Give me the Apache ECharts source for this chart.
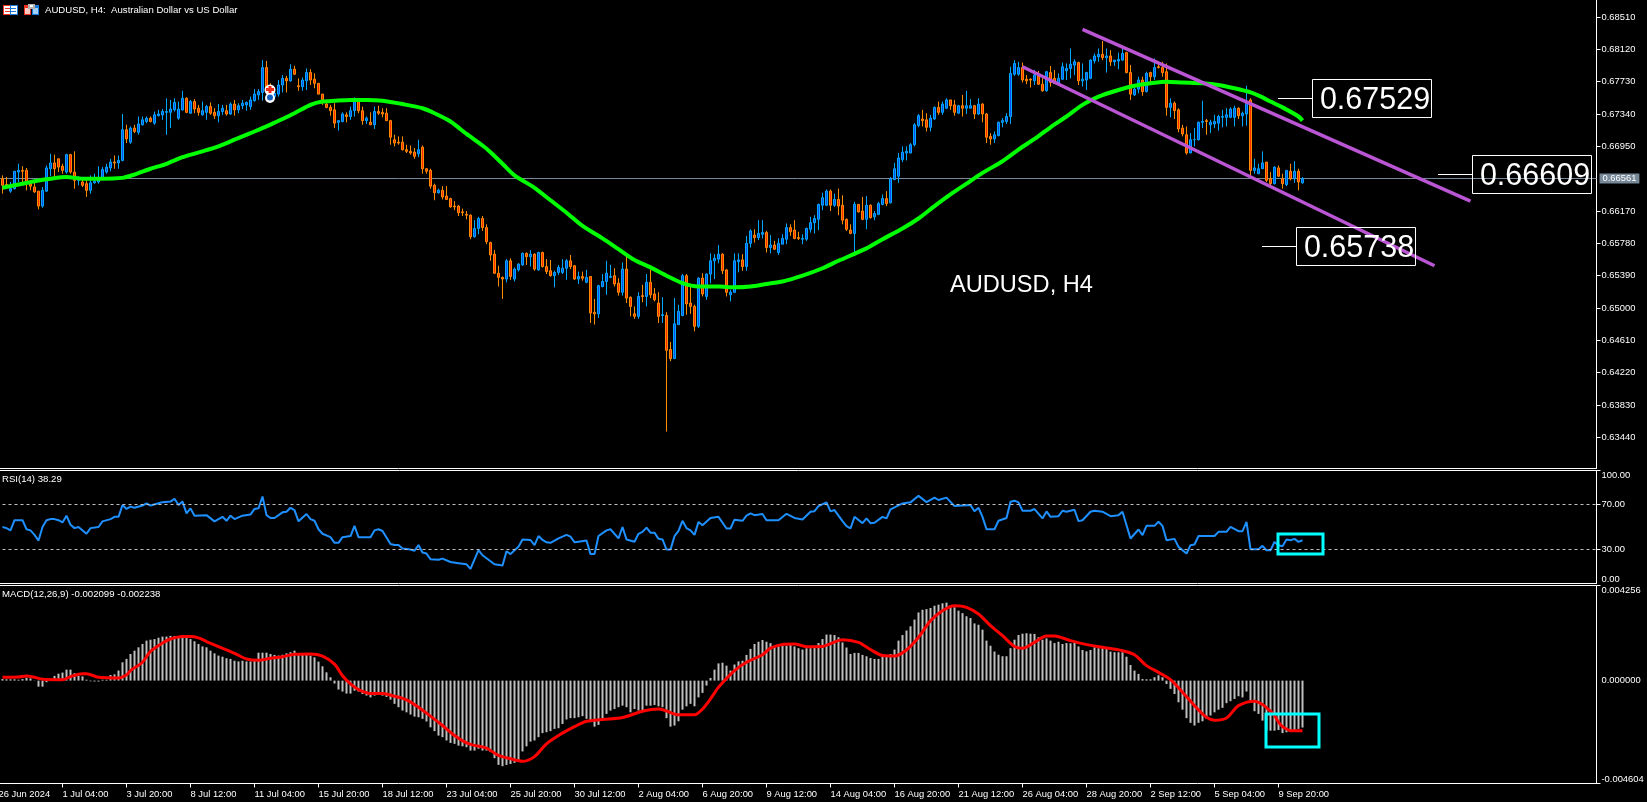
<!DOCTYPE html>
<html><head><meta charset="utf-8">
<style>html,body{margin:0;padding:0;background:#000;overflow:hidden}#c{width:1647px;height:802px}</style>
<script src="https://cdn.jsdelivr.net/npm/echarts@6/dist/echarts.min.js"></script>
</head><body><div id="c"></div>
<script>
// Prices in pips (0.0001), bars
const open=[
6656,6649,6641,6644,6664,6666,6666,6650,6646,6641,
6623,6641,6668,6675,6680,6671,6664,6685,6664,6654,
6652,6650,6642,6651,6652,6657,6664,6669,6676,6675,
6678,6715,6700,6717,6712,6721,6725,6729,6723,6732,
6733,6736,6736,6739,6729,6739,6753,6735,6749,6741,
6733,6736,6743,6736,6732,6737,6738,6734,6746,6739,
6744,6745,6743,6750,6757,6760,6790,6766,6755,6758,
6769,6777,6774,6788,6768,6767,6774,6784,6776,6771,
6758,6746,6742,6739,6724,6725,6733,6731,6738,6749,
6738,6726,6724,6721,6737,6736,6735,6726,6703,6700,
6700,6691,6689,6688,6686,6694,6668,6666,6648,6639,
6642,6635,6632,6623,6623,6616,6613,6612,6586,6596,
6608,6597,6579,6565,6542,6537,6535,6557,6535,6546,
6552,6566,6562,6565,6546,6567,6550,6545,6539,6543,
6543,6548,6557,6551,6535,6538,6531,6538,6495,6493,
6526,6532,6537,6539,6530,6519,6547,6513,6493,6490,
6515,6514,6531,6517,6506,6491,6491,6450,6439,6480,
6491,6539,6506,6502,6478,6536,6514,6541,6557,6559,
6565,6546,6516,6519,6556,6558,6550,6578,6588,6585,
6589,6591,6573,6576,6567,6577,6583,6597,6594,6585,
6583,6583,6595,6603,6607,6624,6624,6641,6624,6631,
6624,6607,6594,6590,6625,6617,6607,6624,6610,6613,
6625,6632,6627,6655,6659,6679,6687,6687,6697,6720,
6728,6727,6718,6728,6742,6736,6741,6751,6745,6735,
6744,6741,6741,6744,6734,6746,6734,6707,6704,6708,
6724,6725,6731,6782,6782,6790,6776,6776,6774,6780,
6770,6762,6784,6777,6771,6776,6786,6789,6793,6796,
6774,6775,6777,6798,6803,6806,6802,6804,6797,6798,
6799,6808,6784,6757,6764,6775,6761,6784,6779,6791,
6790,6785,6742,6747,6739,6717,6709,6687,6703,6703,
6724,6726,6721,6722,6723,6730,6730,6730,6730,6741,
6732,6734,6751,6666,6662,6668,6676,6656,6650,6669,
6656,6649,6665,6656,6665,6651];
const high=[
6660,6658,6652,6665,6674,6671,6669,6652,6654,6641,
6646,6672,6686,6685,6680,6674,6686,6686,6689,6659,
6658,6654,6660,6662,6671,6670,6674,6680,6684,6684,
6734,6721,6719,6721,6731,6731,6731,6731,6737,6739,
6740,6753,6751,6753,6749,6762,6754,6751,6752,6745,
6749,6745,6748,6741,6746,6745,6745,6748,6751,6747,
6751,6749,6755,6764,6764,6799,6798,6771,6763,6775,
6781,6780,6794,6792,6777,6778,6789,6788,6783,6771,
6758,6751,6745,6747,6726,6736,6736,6743,6754,6753,
6743,6731,6736,6743,6744,6741,6741,6727,6709,6707,
6707,6697,6696,6693,6703,6696,6669,6668,6650,6644,
6647,6647,6633,6629,6624,6620,6617,6613,6606,6610,
6611,6601,6580,6570,6551,6538,6559,6560,6549,6554,
6567,6567,6570,6566,6568,6568,6559,6558,6545,6552,
6559,6559,6564,6552,6544,6544,6546,6538,6511,6528,
6541,6557,6552,6548,6536,6555,6562,6514,6502,6519,
6528,6541,6546,6524,6519,6513,6495,6459,6512,6504,
6541,6541,6527,6504,6537,6542,6542,6566,6565,6576,
6566,6547,6522,6566,6566,6565,6587,6595,6595,6606,
6606,6593,6588,6581,6584,6589,6602,6601,6606,6592,
6589,6597,6610,6612,6626,6639,6643,6643,6638,6644,
6636,6608,6601,6628,6625,6634,6635,6625,6617,6628,
6637,6641,6658,6675,6687,6695,6695,6699,6723,6734,
6739,6735,6733,6743,6749,6749,6753,6751,6751,6745,
6757,6762,6752,6745,6753,6747,6735,6711,6713,6725,
6729,6735,6791,6799,6797,6796,6781,6777,6787,6786,
6777,6786,6792,6787,6783,6796,6795,6813,6800,6797,
6795,6785,6800,6807,6813,6822,6813,6811,6799,6808,
6813,6809,6793,6769,6779,6779,6785,6785,6801,6797,
6797,6795,6753,6749,6741,6721,6719,6711,6717,6725,
6750,6728,6727,6733,6733,6739,6741,6742,6744,6742,
6737,6768,6753,6680,6674,6689,6676,6664,6671,6672,
6662,6666,6674,6677,6668,6658];
const low=[
6638,6644,6639,6643,6652,6652,6642,6642,6639,6619,
6621,6640,6659,6658,6664,6662,6662,6662,6644,6648,
6646,6634,6638,6650,6650,6656,6662,6665,6668,6668,
6677,6699,6698,6711,6709,6720,6723,6724,6721,6731,
6727,6709,6717,6737,6727,6738,6735,6734,6735,6732,
6732,6727,6733,6728,6724,6733,6732,6733,6732,6735,
6740,6738,6739,6749,6751,6750,6760,6750,6753,6755,
6760,6760,6773,6781,6762,6762,6763,6769,6765,6758,
6745,6741,6732,6717,6714,6724,6724,6727,6731,6735,
6721,6722,6721,6716,6733,6730,6726,6697,6695,6697,
6690,6687,6685,6680,6682,6662,6662,6644,6630,6638,
6631,6631,6621,6618,6611,6611,6607,6583,6585,6589,
6593,6577,6557,6541,6526,6511,6531,6534,6532,6544,
6551,6552,6550,6545,6545,6549,6541,6538,6525,6540,
6541,6534,6547,6534,6529,6533,6530,6482,6480,6488,
6525,6516,6536,6526,6515,6515,6506,6490,6487,6487,
6507,6502,6512,6508,6482,6482,6351,6436,6439,6480,
6490,6492,6493,6472,6476,6514,6510,6530,6535,6554,
6541,6514,6508,6518,6543,6545,6545,6573,6579,6582,
6584,6567,6566,6570,6564,6577,6577,6587,6583,6582,
6577,6581,6591,6590,6594,6618,6623,6617,6622,6612,
6601,6593,6589,6564,6615,6606,6595,6608,6606,6612,
6624,6623,6626,6654,6651,6676,6678,6687,6695,6718,
6719,6713,6713,6727,6733,6733,6740,6739,6732,6734,
6731,6734,6741,6728,6733,6724,6699,6697,6699,6707,
6718,6722,6722,6780,6780,6772,6770,6766,6769,6769,
6761,6761,6767,6771,6771,6775,6775,6777,6781,6769,
6767,6763,6776,6795,6797,6799,6784,6792,6792,6788,
6798,6783,6751,6756,6759,6756,6760,6771,6775,6789,
6779,6732,6730,6728,6712,6707,6685,6687,6695,6702,
6717,6709,6711,6717,6714,6718,6719,6729,6719,6728,
6719,6720,6660,6662,6662,6668,6652,6648,6649,6658,
6644,6647,6654,6651,6642,6650];
const close=[
6648,6647,6644,6665,6666,6665,6652,6647,6640,6623,
6642,6669,6675,6668,6670,6666,6685,6664,6654,6656,
6648,6642,6651,6653,6656,6667,6670,6676,6675,6678,
6715,6704,6717,6713,6722,6727,6729,6725,6733,6734,
6737,6737,6740,6748,6740,6753,6736,6749,6740,6736,
6738,6743,6735,6732,6737,6741,6734,6746,6739,6744,
6747,6748,6751,6758,6761,6790,6766,6757,6759,6769,
6777,6774,6788,6782,6767,6775,6784,6775,6771,6758,
6751,6742,6738,6723,6726,6734,6731,6738,6749,6738,
6726,6729,6721,6737,6735,6734,6726,6706,6699,6699,
6691,6689,6687,6683,6691,6668,6665,6647,6639,6642,
6634,6631,6622,6622,6615,6615,6612,6586,6596,6608,
6597,6580,6564,6542,6537,6535,6557,6538,6547,6553,
6566,6562,6565,6547,6567,6550,6544,6539,6543,6549,
6548,6557,6550,6535,6538,6536,6537,6494,6493,6527,
6532,6542,6538,6529,6519,6547,6512,6502,6490,6514,
6514,6531,6516,6510,6490,6492,6449,6439,6481,6496,
6539,6505,6502,6478,6536,6517,6541,6557,6560,6565,
6545,6519,6519,6557,6558,6550,6578,6593,6585,6590,
6591,6573,6576,6571,6578,6584,6597,6592,6584,6584,
6584,6596,6603,6608,6625,6633,6641,6624,6631,6623,
6606,6595,6590,6625,6616,6607,6624,6609,6614,6626,
6632,6626,6656,6668,6681,6688,6689,6697,6721,6732,
6726,6718,6729,6742,6736,6746,6751,6744,6736,6744,
6741,6744,6744,6734,6746,6734,6706,6704,6709,6724,
6726,6731,6783,6795,6790,6775,6774,6775,6781,6770,
6762,6785,6772,6771,6777,6791,6789,6794,6797,6774,
6776,6784,6799,6804,6806,6802,6804,6797,6799,6800,
6807,6784,6758,6764,6775,6761,6783,6779,6790,6790,
6784,6742,6747,6738,6716,6710,6687,6703,6703,6724,
6725,6725,6724,6725,6731,6731,6733,6740,6741,6732,
6735,6747,6666,6669,6668,6675,6654,6650,6670,6659,
6650,6666,6656,6665,6652,6656];

// Moving average: [bar, pips] read at the line's vertices
const maPoints=[[0,6645],[5,6650],[8,6653],[12,6656],[16,6658],[20,6656],[24,6656],[30,6657],[33,6661],[37,6668],[41,6674],[45,6682],[50,6689],[54,6695],[58,6703],[62,6711],[66,6719],[70,6728],[73,6735],[77,6745],[80,6749],[83,6750],[87,6751],[91,6751],[95,6750],[100,6746],[105,6741],[108,6735],[112,6725],[116,6710],[120,6696],[122,6688],[125,6674],[128,6660],[133,6645],[137,6630],[141,6615],[145,6599],[150,6584],[154,6571],[158,6558],[162,6549],[166,6539],[170,6530],[174,6526],[179,6526],[183,6525],[187,6526],[191,6529],[195,6532],[200,6539],[205,6548],[209,6557],[216,6572],[220,6583],[225,6596],[229,6608],[233,6623],[237,6637],[241,6650],[245,6663],[250,6677],[254,6691],[258,6704],[262,6718],[266,6731],[270,6745],[274,6755],[279,6763],[283,6768],[287,6771],[291,6773],[295,6772],[300,6771],[304,6769],[308,6765],[312,6760],[315,6754],[317,6749],[320,6742],[324,6731],[325,6726]];

// Trend channel: [bar, pips] at both ends
const upperChannel=[[270,6836],[367,6629]];
const lowerChannel=[[255,6791],[358,6551]];

// RSI(14): [bar, value]
const rsiPoints=[[0,50],[1,49],[2,47],[3,56],[5,56],[6,48],[7,47],[8,43],[9,38],[10,50],[11,56],[12,57],[13,57],[14,56],[15,54],[16,60],[17,52],[18,49],[19,50],[21,44],[22,49],[24,50],[25,55],[27,57],[28,59],[29,59],[30,69.5],[31,66],[32,68],[33,67],[35,69],[36,71],[37,69],[39,71],[40,72],[42,72.5],[43,75],[44,69.5],[45,72.5],[46,62],[47,66.5],[48,60],[51,60.5],[53,55],[55,59],[56,55.5],[57,60],[58,57],[60,60],[62,61],[63,66],[64,66.5],[65,77],[66,60.5],[67,58],[68,58],[70,63],[71,63.5],[72,67],[73,65],[74,55],[76,61.5],[77,57],[78,55.5],[79,48],[80,44],[82,41],[83,36],[84,36],[85,41],[87,42],[88,51],[89,41],[92,41],[93,47],[94,48],[95,46.5],[97,35],[98,34],[99,34],[100,31],[102,30],[103,29],[104,34],[105,27.5],[106,26.5],[107,21.5],[109,21],[110,22],[112,19],[114,18],[116,17],[117,13],[119,29.5],[120,25],[123,17],[125,16],[126,28.5],[127,26],[128,29.5],[129,32.5],[130,39],[132,38.5],[133,34],[134,42],[135,38.5],[136,36.5],[137,36],[139,40],[141,43],[142,41.5],[143,36.5],[144,37],[146,38],[147,26],[148,26],[149,42],[151,47],[152,48],[154,40],[155,50],[156,39],[158,37],[159,44],[160,45.7],[161,49.5],[162,45],[163,45],[164,39.5],[165,39],[166,30],[167,30],[168,42],[169,46.5],[170,55.5],[171,49],[172,47],[173,43],[174,54.5],[175,51.5],[177,58],[179,59],[181,48.7],[182,48.7],[183,56.5],[185,55.5],[186,60],[187,62],[188,60.5],[190,61.5],[191,56],[194,56],[196,61.7],[198,58],[200,56.7],[202,63.5],[203,64],[204,68.5],[206,71.8],[207,63.8],[208,65],[210,55.2],[211,50.8],[212,48.7],[213,59],[215,53.4],[216,57.6],[217,53.4],[218,53.7],[220,59],[221,57.6],[222,65.6],[225,70.9],[227,71.8],[229,77.7],[231,72],[233,76],[234,73.9],[236,76],[238,68.5],[242,69.4],[243,64],[244,67],[245,59],[246,48],[248,48],[249,55.5],[251,58],[252,72.4],[253,73.3],[254,71.8],[255,64.4],[257,64.4],[258,65.9],[260,57.6],[261,63.8],[262,59],[264,59.6],[265,64.4],[266,63.5],[268,65.3],[269,55.2],[270,56],[272,63.5],[273,64.4],[275,63.5],[277,59.6],[279,60.5],[280,63.5],[282,39.8],[284,47.8],[285,42.8],[286,51],[288,51],[289,54.6],[290,51],[291,38.3],[293,39.5],[294,32.4],[296,26.5],[297,33.9],[298,34.5],[299,42],[303,42],[304,45.7],[306,45.7],[307,50.2],[309,46.3],[310,46.3],[311,54.6],[312,30.3],[314,30.3],[315,33.3],[316,29.4],[317,29.4],[318,36.8],[319,33.9],[320,33],[321,38.9],[322,38.3],[323,39.5],[324,36.8],[325,38.3]];

// MACD histogram, one value per bar, in units of 0.00001
const macdHist=[
7,6,6,6,4,7,13,10,1,-27,
-27,-7,1,21,31,36,49,49,33,21,
19,4,-3,-4,-4,4,4,25,28,45,
82,97,119,134,149,164,179,183,186,192,
197,197,200,200,197,200,194,186,176,164,
153,149,134,122,112,107,100,97,89,86,
89,86,86,89,125,125,125,119,115,112,
116,122,127,134,119,118,116,112,104,85,
64,37,15,-13,-40,-49,-58,-58,-45,-49,
-60,-67,-75,-67,-64,-67,-73,-85,-104,-119,
-134,-142,-152,-161,-164,-171,-183,-209,-226,-246,
-253,-268,-279,-283,-291,-294,-298,-313,-313,-305,
-313,-313,-320,-347,-377,-383,-377,-373,-368,-356,
-317,-294,-273,-268,-253,-235,-231,-226,-216,-213,
-194,-174,-168,-168,-164,-159,-171,-186,-206,-198,
-179,-149,-134,-127,-119,-112,-119,-142,-127,-134,
-134,-112,-112,-109,-115,-119,-168,-206,-201,-182,
-130,-115,-104,-115,-75,-55,-22,12,49,77,
80,67,45,72,86,89,115,142,164,174,
182,174,168,153,153,156,156,168,153,145,
139,145,145,156,168,186,206,206,204,194,
171,148,119,124,124,115,109,101,97,97,
107,112,119,139,179,204,224,243,273,305,
317,320,325,335,340,346,349,335,328,313,
302,288,280,256,250,228,179,156,130,116,
109,109,145,183,204,210,212,210,209,194,
183,189,179,168,174,164,168,167,171,153,
137,131,137,149,145,145,142,130,127,127,
127,107,70,45,30,7,6,6,15,24,
15,-15,-37,-60,-97,-130,-168,-189,-201,-189,
-182,-171,-156,-142,-130,-122,-101,-92,-82,-70,
-75,-49,-97,-137,-149,-179,-224,-224,-224,-221,
-235,-231,-224,-221,-216,-210];

// MACD signal: [bar, value] in units of 0.00001
const macdSignal=[[0,15],[4,16],[6,21],[8,15],[10,6],[15,4],[17,18],[20,31],[21,31],[24,15],[29,12],[31,25],[32,45],[35,82],[37,131],[40,168],[42,186],[45,197],[47,197],[49,191],[51,175],[54,152],[58,122],[61,97],[64,91],[67,100],[70,107],[73,118],[77,119],[80,110],[83,74],[85,22],[87,-15],[89,-40],[92,-58],[95,-58],[98,-70],[101,-86],[104,-119],[107,-159],[110,-201],[113,-246],[116,-279],[118,-290],[121,-302],[124,-335],[127,-350],[130,-361],[133,-340],[136,-283],[140,-235],[143,-206],[146,-182],[150,-174],[155,-165],[160,-137],[164,-127],[166,-136],[169,-153],[173,-153],[175,-127],[177,-82],[179,-30],[183,45],[186,82],[190,116],[192,145],[195,162],[198,164],[201,152],[205,153],[207,165],[210,183],[214,171],[217,139],[220,112],[223,110],[226,137],[229,194],[232,268],[235,313],[238,335],[241,328],[244,298],[247,246],[250,201],[253,153],[255,145],[258,171],[261,200],[263,200],[267,179],[271,161],[275,149],[280,134],[283,116],[286,67],[289,37],[292,4],[295,-52],[298,-112],[301,-164],[303,-177],[306,-167],[309,-112],[313,-92],[315,-107],[317,-137],[318,-156],[319,-186],[320,-206],[321,-216],[322,-224],[325,-224]];

// Axis ticks
const priceTicks=[0.6851,0.6812,0.6773,0.6734,0.6695,0.6617,0.6578,0.6539,0.65,0.6461,0.6422,0.6383,0.6344];
const rsiTicks=[0,30,70,100];
const macdTicks=[-0.004604,0,0.004256];
const timeLabels=['26 Jun 2024','1 Jul 04:00','3 Jul 20:00','8 Jul 12:00','11 Jul 04:00','15 Jul 20:00','18 Jul 12:00','23 Jul 04:00','25 Jul 20:00','30 Jul 12:00','2 Aug 04:00','6 Aug 20:00','9 Aug 12:00','14 Aug 04:00','16 Aug 20:00','21 Aug 12:00','26 Aug 04:00','28 Aug 20:00','2 Sep 12:00','5 Sep 04:00','9 Sep 20:00'];
const lastPrice=0.66561;
const rsiLevels=[70,30];
const calloutTexts=['0.67529','0.66609','0.65738'];

// ---- build ----
const PIP=1e-4, MU=1e-5, SLOTS=400, EVERY=16;
const cats=Array.from({length:SLOTS},(_,k)=>k%EVERY===0&&timeLabels[k/EVERY]?timeLabels[k/EVERY]:'');
const slot=b=>b+1;
const candle=[ '-' ].concat(open.map((o,k)=>[o*PIP,close[k]*PIP,low[k]*PIP,high[k]*PIP]));
const pts=(a,u)=>a.map(p=>[slot(p[0]),p[1]*u]);
const FONT='"Liberation Sans",Arial,sans-serif';
const txt={color:'#fff',fontFamily:FONT,fontSize:9.4};
const isLab=(k,v)=>v!=='';

function xAxisFor(g,show){return {type:'category',gridIndex:g,data:cats,boundaryGap:true,
  axisLine:{onZero:false,lineStyle:{color:'#fff',width:1}},
  axisTick:show?{show:true,interval:isLab,alignWithLabel:true,length:4,lineStyle:{color:'#fff'}}:{show:false},
  axisLabel:show?Object.assign({show:true,interval:isLab,align:'left',margin:6},txt):{show:false},
  splitLine:{show:false}};}

function yAxisFor(g,min,max,ticks,tickShown,fmt,edge){return {type:'value',gridIndex:g,position:'right',min,max,
  axisLine:{show:true,lineStyle:{color:'#fff',width:1}},
  axisTick:{show:true,length:4,lineStyle:{color:'#fff'},customValues:tickShown},
  axisLabel:Object.assign({show:true,margin:5,customValues:ticks,formatter:fmt},edge?{verticalAlignMinLabel:'bottom',verticalAlignMaxLabel:'top'}:{},txt),
  splitLine:{show:false}};}

const line=(x,y,w)=>({type:'line',z:50,shape:{x1:x,y1:y,x2:x+w,y2:y},style:{stroke:'#fff',lineWidth:1}});
const frame=(y)=>line(0,y,1597);
const box=(x,y,w,h,c,lw)=>({type:'rect',z:60,shape:{x,y,width:w,height:h},style:{fill:'transparent',stroke:c,lineWidth:lw}});
const label=(x,y,t,size,extra)=>({type:'text',z:70,x,y,style:Object.assign({text:t,fill:'#fff',font:size+'px '+FONT,textVerticalAlign:'middle'},extra||{})});
const rectF=(x,y,w,h,c)=>({type:'rect',z:70,shape:{x,y,width:w,height:h},style:{fill:c}});
const callout=(bx,by,t)=>[line(bx-34,by+19.5,34),box(bx+.5,by+.5,119,38,'#fff',1),label(bx+63,by+21.5,t,30.5,{textAlign:'center'})];

const graphic=[
 frame(470.5),frame(585.5),
 ...callout(1312,79,calloutTexts[0]),
 ...callout(1472,155,calloutTexts[1]),
 ...callout(1296,227,calloutTexts[2]),
 box(1278,534,45,20,'#00FFFF',3),
 box(1266,714,53,33,'#00FFFF',3),
 label(45,10,'AUDUSD, H4:  Australian Dollar vs US Dollar',9.6),
 label(2,479.5,'RSI(14) 38.29',9.6),
 label(2,594.5,'MACD(12,26,9) -0.002099 -0.002238',9.6),
 {type:'text',z:70,x:950,y:297,style:{text:'AUDUSD, H4',fill:'#fff',font:'23.6px '+FONT,textVerticalAlign:'bottom'}},
 // toolbar icons
 rectF(3,5,8,10,'#f03020'),rectF(4,6,6,8,'#fff'),rectF(5,8,5,1,'#f03020'),rectF(5,11,5,1,'#f03020'),
 rectF(10,5,8,10,'#1878d8'),rectF(11,6,6,8,'#fff'),rectF(11,8,5,1,'#1878d8'),rectF(11,11,5,1,'#1878d8'),
 rectF(24,5,7,10,'#f03020'),rectF(25,8,5,6,'#ffc8c0'),
 rectF(32,5,7,10,'#1878d8'),rectF(33,8,5,6,'#a0d0f8'),rectF(28,4,7,5,'#b0b0b0'),rectF(30,5,3,2,'#fff'),
 // trade markers
 {type:'circle',z:70,shape:{cx:270,cy:90,r:5.5},style:{fill:'#fff'}},
 {type:'circle',z:70,shape:{cx:270,cy:98,r:5},style:{fill:'#fff'}},
 rectF(266,88,8,3,'#f02818'),rectF(268.5,86,3,7,'#f02818'),
 {type:'circle',z:71,shape:{cx:270,cy:97.5,r:3},style:{fill:'#1060c0'}}
];

const option={backgroundColor:'#000',animation:false,tooltip:{show:false},legend:{show:false},
 grid:[
  {left:-3.5,top:0,width:1600,height:468.5,outerBoundsMode:'none'},
  {left:-3.5,top:470.5,width:1600,height:113,outerBoundsMode:'none'},
  {left:-3.5,top:585.5,width:1600,height:198,outerBoundsMode:'none'}],
 xAxis:[xAxisFor(0,false),xAxisFor(1,false),xAxisFor(2,true)],
 yAxis:[
  yAxisFor(0,0.63065,0.68715,priceTicks,priceTicks,v=>v.toFixed(5),false),
  yAxisFor(1,0,100,rsiTicks,[30,70,100],v=>v.toFixed(2),true),
  yAxisFor(2,-0.004604,0.004256,macdTicks,[-0.004604,0.004256],v=>v.toFixed(6),true)],
 graphic,
 series:[
  {type:'candlestick',xAxisIndex:0,yAxisIndex:0,data:candle,barWidth:3,z:3,silent:true,
   itemStyle:{color:'#0A50F0',color0:'#FF2A00',borderColor:'#00A8FF',borderColor0:'#FF8C00',borderWidth:1}},
  {type:'line',name:'MA',xAxisIndex:0,yAxisIndex:0,data:pts(maPoints,PIP),showSymbol:false,smooth:0.25,z:4,silent:true,lineStyle:{color:'#00FF00',width:4},
   markLine:{silent:true,symbol:'none',animation:false,precision:5,z:1,
     lineStyle:{color:'#778899',width:1,type:'solid'},
     label:{show:true,position:'end',distance:3,formatter:()=>lastPrice.toFixed(5),color:'#fff',fontFamily:FONT,fontSize:9.4,backgroundColor:'#778899',padding:[1,3,0,3]},
     data:[{yAxis:lastPrice}]}},
  {type:'line',name:'Upper channel',xAxisIndex:0,yAxisIndex:0,data:pts(upperChannel,PIP),showSymbol:false,z:5,silent:true,lineStyle:{color:'#BA55D3',width:3.5}},
  {type:'line',name:'Lower channel',xAxisIndex:0,yAxisIndex:0,data:pts(lowerChannel,PIP),showSymbol:false,z:5,silent:true,lineStyle:{color:'#BA55D3',width:3.5}},
  {type:'line',name:'RSI',xAxisIndex:1,yAxisIndex:1,data:pts(rsiPoints,1),showSymbol:false,z:4,silent:true,lineStyle:{color:'#1E90FF',width:2},
   markLine:{silent:true,symbol:'none',animation:false,label:{show:false},lineStyle:{color:'#C0C0C0',width:1,type:[3,3]},data:rsiLevels.map(v=>({yAxis:v}))}},
  {type:'bar',name:'MACD',xAxisIndex:2,yAxisIndex:2,data:['-'].concat(macdHist.map(v=>v*MU)),barWidth:2,z:3,silent:true,itemStyle:{color:'#C0C0C0'}},
  {type:'line',name:'Signal',xAxisIndex:2,yAxisIndex:2,data:pts(macdSignal,MU),showSymbol:false,smooth:0.3,z:4,silent:true,lineStyle:{color:'#FF0000',width:3}}
 ]};
const chart=echarts.init(document.getElementById('c'),null,{renderer:'canvas',width:1647,height:802});
chart.setOption(option);
</script></body></html>
